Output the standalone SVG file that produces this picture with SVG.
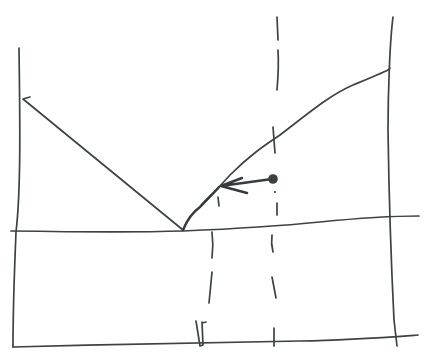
<svg xmlns="http://www.w3.org/2000/svg" width="430" height="360" viewBox="0 0 430 360">
<style>
.s{fill:none;stroke:#3d4244;stroke-width:1.7;stroke-linecap:round;stroke-linejoin:round}
.t{fill:none;stroke:#363b3e;stroke-width:2.5;stroke-linecap:round;stroke-linejoin:round}
</style>
<rect width="430" height="360" fill="#ffffff"/>
<g id="frame">
<path class="s" d="M19,48 C20,120 21,190 16,232 C14,280 13,320 13,347"/>
<path class="s" d="M13,347 C120,344 250,342 300,341 C350,340 390,337 418,335"/>
<path class="s" d="M393,17 C390,40 388,90 388,130 C389,200 391,260 394,320 L397,346"/>
<path class="s" d="M11,231 C80,232 150,232 183,231 C230,229 280,226 320,222 C360,218 390,216 419,216"/>
</g>
<g id="curves">
<path class="s" d="M183,230 L23,99 L30,97"/>
<path class="s" d="M200,207 C210,197 220,186 230,175 C250,155 265,145 280,135 C310,112 330,95 353,85 C370,78 380,74 388,70 L390,68"/>
<path class="t" d="M183,230 C187,220 193,212 200,207 C206,200 213,194 219,187"/>
<path class="s" d="M218,197 L219,206"/>
</g>
<g id="dashes">
<path class="s" d="M277,17 L278,40 M278,50 C279,65 278,78 277,90 M273,127 L275,153 M277,203 L277,215 M272,235 C271,242 272,248 273,252 M272,277 L276,298 M274,328 L274,346"/>
<path class="s" d="M212,232 C213,240 213,250 212,258 M212,272 L209,303"/>
<path class="s" d="M196,321 L200,346 L203,345 L202,322 M202,323 L206,322"/>
<circle cx="275" cy="192" r="1.1" fill="#3d4244"/>
</g>
<g id="arrow">
<path class="t" d="M272,179 L221,186 M221,186 L242,178 M221,186 L247,193"/>
<circle cx="273" cy="179" r="4.8" fill="#3a4042"/>
</g>
</svg>
